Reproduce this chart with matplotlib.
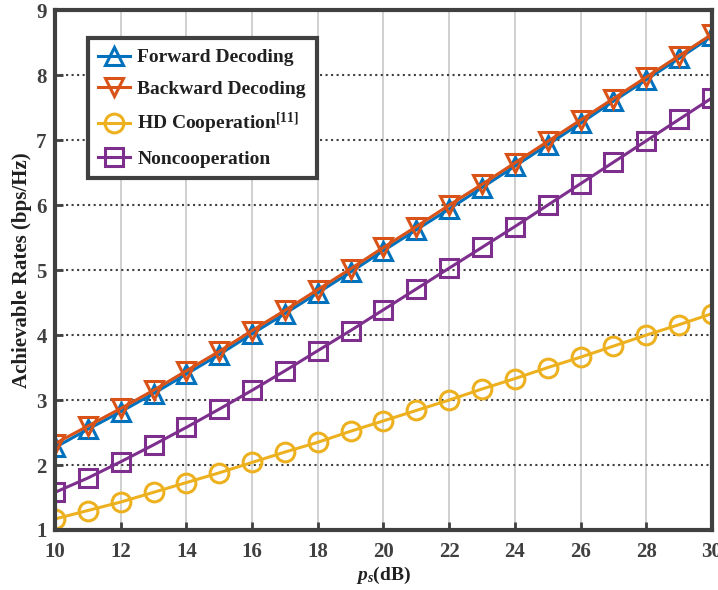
import numpy as np
import matplotlib.pyplot as plt

plt.rcParams['font.family'] = ['Liberation Serif', 'DejaVu Serif']
plt.rcParams['font.weight'] = 'bold'
plt.rcParams['mathtext.fontset'] = 'custom'
plt.rcParams['mathtext.rm'] = 'Liberation Serif:bold'
plt.rcParams['mathtext.it'] = 'Liberation Serif:italic:bold'

# data
ps = list(range(10, 31))
forward = [2.27, 2.55, 2.82, 3.10, 3.40, 3.70, 4.02, 4.33, 4.65, 4.97, 5.30,
           5.62, 5.94, 6.27, 6.60, 6.93, 7.26, 7.60, 7.93, 8.26, 8.60]
backward = [2.33, 2.60, 2.87, 3.15, 3.45, 3.75, 4.07, 4.38, 4.70, 5.02, 5.35,
            5.67, 6.00, 6.32, 6.65, 6.98, 7.31, 7.64, 7.97, 8.30, 8.63]
hd_coop = [1.17, 1.30, 1.43, 1.58, 1.73, 1.88, 2.04, 2.20, 2.35, 2.52, 2.68,
           2.84, 3.00, 3.17, 3.33, 3.50, 3.66, 3.83, 4.00, 4.16, 4.33]
noncoop = [1.58, 1.80, 2.05, 2.31, 2.58, 2.86, 3.15, 3.45, 3.76, 4.07, 4.39,
           4.71, 5.03, 5.35, 5.67, 6.00, 6.33, 6.66, 6.99, 7.32, 7.65]

fig = plt.figure(figsize=(7.18, 5.9), dpi=100)
ax = fig.add_axes([0.0766, 0.1017, 0.915, 0.881])

kw = dict(linewidth=2.2, markersize=13.5, markeredgewidth=2.2, markerfacecolor='none')
ax.plot(ps, forward, color='#0072BD', marker='^', label='Forward Decoding', **kw)
ax.plot(ps, backward, color='#D95319', marker='v', label='Backward Decoding', **kw)
ax.plot(ps, hd_coop, color='#EDB120', marker='o', label=r'HD Cooperation$^{[11]}$', **kw)
ax.plot(ps, noncoop, color='#7E2F8E', marker='s', label='Noncooperation', **kw)

ax.set_xlim(10, 30)
ax.set_ylim(1, 9)
ax.set_xticks(range(10, 31, 2))
ax.set_yticks(range(1, 10))
ax.set_axisbelow(True)
ax.yaxis.grid(True, linestyle=':', color='#404040', linewidth=1.5)
ax.xaxis.grid(True, linestyle='-', color='#c8c8c8', linewidth=1.2)
ax.tick_params(direction='in', length=6, width=2, colors='#404040',
               labelsize=15, labelcolor='#404040')
ax.tick_params(axis='x', pad=9)
ax.tick_params(axis='y', pad=6)
for lab in ax.get_xticklabels() + ax.get_yticklabels():
    lab.set_fontweight('bold')
for sp in ax.spines.values():
    sp.set_linewidth(3)
    sp.set_color('#404040')

ax.set_xlabel(r'$p_s$(dB)', fontsize=14, fontweight='bold', color='#202020', labelpad=2)
ax.set_ylabel('Achievable Rates (bps/Hz)', fontsize=15, fontweight='bold', color='#202020')
ax.yaxis.set_label_coords(-0.035, 0.5)

leg = ax.legend(loc='upper left', bbox_to_anchor=(0.035, 0.965), fontsize=14,
                fancybox=False, framealpha=1, edgecolor='#404040',
                handlelength=1.6, handletextpad=0.4, borderpad=0.55,
                labelspacing=0.7)
leg.get_frame().set_linewidth(3)
for t in leg.get_texts():
    t.set_color('#202020')

plt.savefig('out.png', dpi=100)
